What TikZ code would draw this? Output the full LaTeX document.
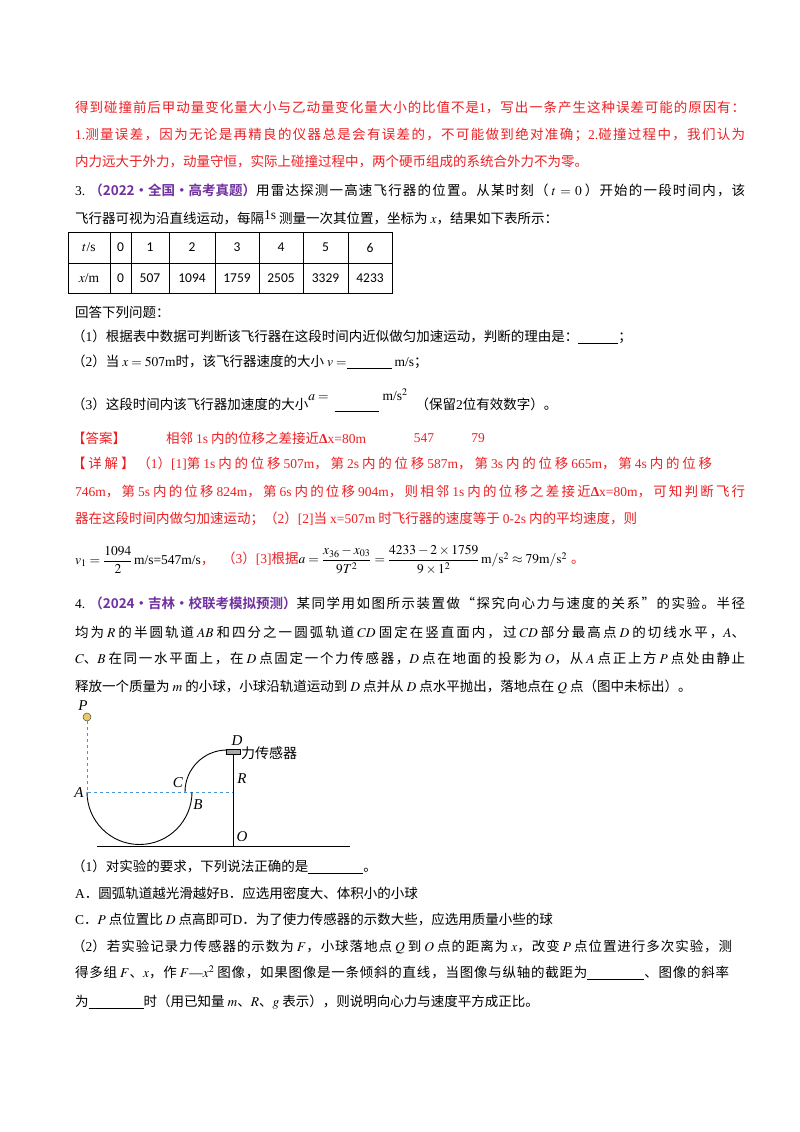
\documentclass[tikz,border=0pt]{standalone}
\usepackage{amsmath}
\usepackage{mathptmx}
\usepackage{fontspec}
\setmainfont{Liberation Serif}
\newfontfamily\cjkfont{Noto Sans CJK SC}
\newfontfamily\latfont{Liberation Serif}
\newfontfamily\cjkb{Noto Sans CJK SC Bold}
\newfontfamily\calib{Carlito}
\XeTeXinterchartokenstate=1
\newXeTeXintercharclass\cjkclass
\newcount\mycnt
\def\setrange#1#2{\mycnt=#1\relax\loop\XeTeXcharclass\mycnt=\cjkclass\ifnum\mycnt<#2\relax\advance\mycnt by 1\repeat}
\setrange{"4E00}{"9FFF}
\setrange{"3000}{"303F}
\setrange{"FF00}{"FFEF}
\XeTeXcharclass"201C=\cjkclass
\XeTeXcharclass"201D=\cjkclass
\XeTeXinterchartoks 0 \cjkclass={\cjkfont}
\XeTeXinterchartoks 4095 \cjkclass={\cjkfont}
\XeTeXinterchartoks \cjkclass 0={\latfont}
\XeTeXinterchartoks 4095 0={\latfont}
\XeTeXinterchartoks \cjkclass \cjkclass={\hskip 0pt plus 1pt}
\definecolor{ans}{RGB}{236,32,36}
\definecolor{hd}{RGB}{112,48,160}
\definecolor{dashblue}{RGB}{70,150,220}
\definecolor{ball}{RGB}{235,200,100}
\newcommand\nochar{\XeTeXinterchartokenstate=0\relax}
\newcommand\hd[1]{{\nochar\cjkb\color{hd}#1}\cjkfont}
\newcommand\blank[1]{\rule[-2pt]{#1pt}{0.7pt}}
\newcommand\J[1]{\makebox[#1pt][s]}
\newcommand\gp{\hspace{3pt}}
\tikzset{x=1pt,y=-1pt,
 txt/.style={anchor=west,inner sep=0pt,font=\fontsize{13.5}{16}\selectfont},
 red/.style={txt,text=ans},
 cell/.style={inner sep=0pt,font=\fontsize{13.5}{16}\selectfont\nochar\calib},
 lab/.style={inner sep=0pt,font=\fontsize{15}{16}\selectfont\itshape}}
\begin{document}
\begin{tikzpicture}
\useasboundingbox[fill=white] (0,0) rectangle (800,1132);
\node[red] (l1) at (75,107) {\J{670}{得到碰撞前后甲动量变化量大小与乙动量变化量大小的比值不是1，写出一条产生这种误差可能的原因有：}};
\node[red] (l2) at (75,135) {\J{670}{1.测量误差，因为无论是再精良的仪器总是会有误差的，不可能做到绝对准确；2.碰撞过程中，我们认为}};
\node[red] (l3) at (75,162) {内力远大于外力，动量守恒，实际上碰撞过程中，两个硬币组成的系统合外力不为零。};
\node[txt] (l4) at (75,190) {\J{670}{3.\hspace{4pt}\hd{（2022•全国•高考真题）}用雷达探测一高速飞行器的位置。从某时刻（\gp$t=0$\gp）开始的一段时间内，该}};
\node[txt] (l5) at (75,218) {飞行器可视为沿直线运动，每隔\raisebox{4pt}{1s}\gp 测量一次其位置，坐标为\gp$x$，结果如下表所示：};
% table
\draw[line width=0.8pt] (68,232) rectangle (392,293);
\draw[line width=0.8pt] (68,263) -- (392,263);
\foreach \xx in {110,131,169,215,259,303,348} \draw[line width=0.8pt] (\xx,232) -- (\xx,293);
\node[cell] (h0) at (89,247.5) {\latfont $t$/s};
\node[cell] (h1) at (120.5,247.5) {0};
\node[cell] (h2) at (150,247.5) {1};
\node[cell] (h3) at (192,247.5) {2};
\node[cell] (h4) at (237,247.5) {3};
\node[cell] (h5) at (281,247.5) {4};
\node[cell] (h6) at (325.5,247.5) {5};
\node[cell] (h7) at (370,247.5) {6};
\node[cell] (v0) at (89,278) {\latfont $x$/m};
\node[cell] (v1) at (120.5,278) {0};
\node[cell] (v2) at (150,278) {507};
\node[cell] (v3) at (192,278) {1094};
\node[cell] (v4) at (237,278) {1759};
\node[cell] (v5) at (281,278) {2505};
\node[cell] (v6) at (325.5,278) {3329};
\node[cell] (v7) at (370,278) {4233};
\node[txt] (l6) at (75,312) {回答下列问题：};
\node[txt] (l7) at (72,337) {（1）根据表中数据可判断该飞行器在这段时间内近似做匀加速运动，判断的理由是：\blank{40}；};
\node[txt] (l8) at (72,362) {（2）当\gp$x=507$m时，该飞行器速度的大小\gp$v=$\blank{45}\gp m/s；};
\node[txt] (l9) at (72,400) {（3）这段时间内该飞行器加速度的大小\raisebox{9pt}{$a=$}\hspace{6pt}\blank{44}\hspace{4pt}\raisebox{9pt}{m/s$^2$}\hspace{8pt}（保留2位有效数字）。};
\node[red] (a0) at (72,438) {【答案】};
\node[red] (a1) at (166,438) {相邻\gp1s\gp 内的位移之差接近\textbf{Δ}x=80m};
\node[red,anchor=center] (a2) at (424,438) {547};
\node[red,anchor=center] (a3) at (478,438) {79};
\node[red] (d1) at (72,464) {\J{640}{【详解】（1）[1]第\gp1s\gp 内的位移\gp507m，第\gp2s\gp 内的位移\gp587m，第\gp3s\gp 内的位移\gp665m，第\gp4s\gp 内的位移}};
\node[red] (d2) at (75,491) {\J{670}{746m，第\gp5s\gp 内的位移\gp824m，第\gp6s\gp 内的位移\gp904m，则相邻\gp1s\gp 内的位移之差接近\textbf{Δ}x=80m，可知判断飞行}};
\node[red] (d3) at (75,519) {器在这段时间内做匀加速运动；（2）[2]当\gp x=507m\gp 时飞行器的速度等于\gp0-2s\gp 内的平均速度，则};
\node[txt] (f1) at (75,560) {$v_1=\dfrac{1094}{2}\,$m/s=547m/s\textcolor{ans}{，}};
\node[txt] (f2) at (222,560) {\textcolor{ans}{（3）[3]根据}$a=\dfrac{x_{36}-x_{03}}{9T^2}=\dfrac{4233-2\times1759}{9\times1^2}\,\mathrm{m/s^2}\approx79\mathrm{m/s^2}$\hspace{4pt}\textcolor{ans}{。}};
\node[txt] (q1) at (75,603) {\J{670}{4.\hspace{4pt}\hd{（2024•吉林•校联考模拟预测）}某同学用如图所示装置做“探究向心力与速度的关系”的实验。半径}};
\node[txt] (q2) at (75,632) {\J{670}{均为\gp$R$\gp 的半圆轨道\gp$AB$\gp 和四分之一圆弧轨道\gp$CD$\gp 固定在竖直面内，过\gp$CD$\gp 部分最高点\gp$D$\gp 的切线水平，$A$、}};
\node[txt] (q3) at (75,658) {\J{670}{$C$、$B$\gp 在同一水平面上，在\gp$D$\gp 点固定一个力传感器，$D$\gp 点在地面的投影为\gp$O$，从\gp$A$\gp 点正上方\gp$P$\gp 点处由静止}};
\node[txt] (q4) at (75,687) {释放一个质量为\gp$m$\gp 的小球，小球沿轨道运动到\gp$D$\gp 点并从\gp$D$\gp 点水平抛出，落地点在\gp$Q$\gp 点（图中未标出）。};
% figure
\draw[dashblue,dashed,line width=0.7pt] (87,721) -- (87,792) -- (233,792);
\draw[line width=0.9pt] (87,792) arc[start angle=180,end angle=360,radius=52.5pt];
\draw[line width=0.9pt] (185,792) arc[start angle=180,end angle=90,radius=42pt];
\draw[line width=0.8pt] (233,754) -- (233,846);
\draw[line width=0.8pt] (97,846) -- (350,846);
\draw[fill=gray!70,line width=0.5pt] (226,749) rectangle (240,754);
\node[draw=black!70,fill=ball,circle,inner sep=0pt,minimum size=8pt,line width=0.5pt] (ball) at (87,717) {};
\node[lab] (P) at (83,706) {P};
\node[lab] (D) at (237,741) {D};
\node[anchor=west,inner sep=0pt,font=\fontsize{14}{16}\selectfont] (sens) at (241,753) {力传感器};
\node[lab] (R) at (242,779) {R};
\node[lab] (A) at (79,793) {A};
\node[lab] (C) at (178,783) {C};
\node[lab] (B) at (198,805) {B};
\node[lab] (O) at (242,837) {O};
% bottom
\node[txt] (b1) at (72,867) {（1）对实验的要求，下列说法正确的是\blank{55}。};
\node[txt] (b2) at (75,893) {A．圆弧轨道越光滑越好B．应选用密度大、体积小的小球};
\node[txt] (b3) at (75,919) {C．$P$\gp 点位置比\gp$D$\gp 点高即可D．为了使力传感器的示数大些，应选用质量小些的球};
\node[txt] (b4) at (72,947) {\J{660}{（2）若实验记录力传感器的示数为\gp$F$，小球落地点\gp$Q$\gp 到\gp$O$\gp 点的距离为\gp$x$，改变\gp$P$\gp 点位置进行多次实验，测}};
\node[txt] (b5) at (75,973) {\J{654}{得多组\gp$F$、$x$，作\gp$F$—$x^2$\gp 图像，如果图像是一条倾斜的直线，当图像与纵轴的截距为\blank{57}、图像的斜率}};
\node[txt] (b6) at (75,1002) {为\blank{55}时（用已知量\gp$m$、$R$、$g$\gp 表示），则说明向心力与速度平方成正比。};
\end{tikzpicture}
\end{document}
